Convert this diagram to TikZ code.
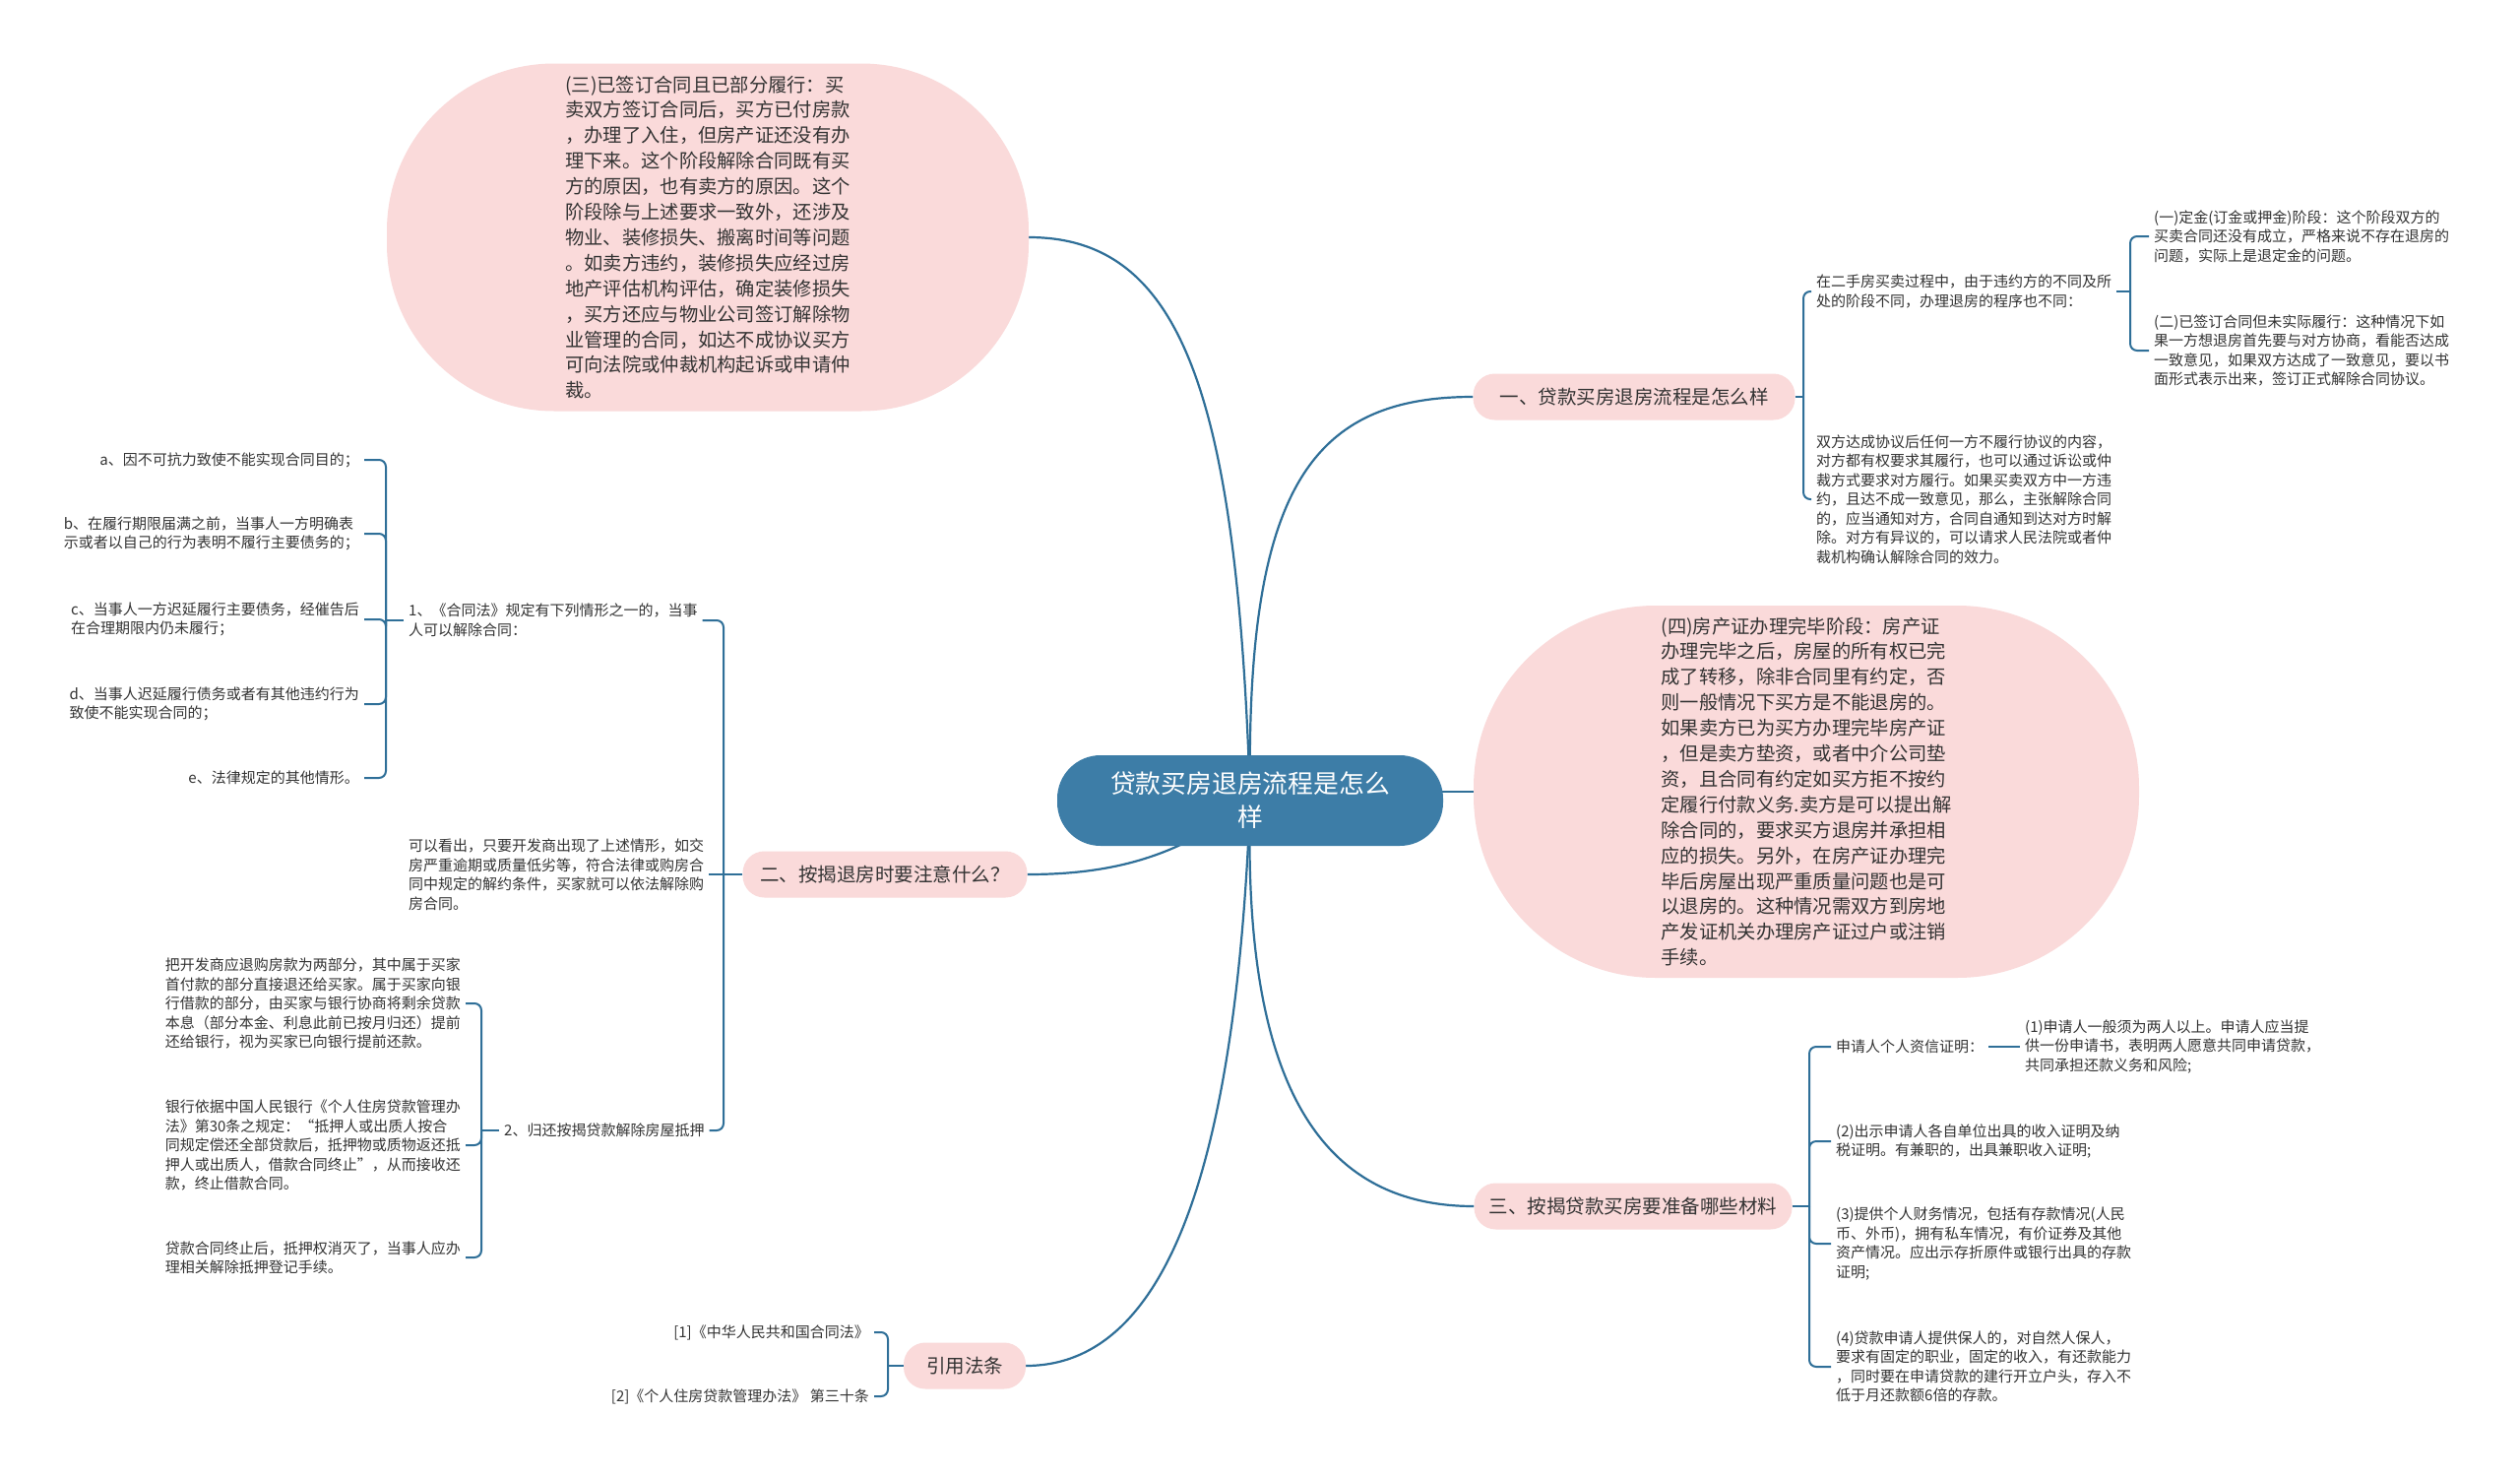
\documentclass[tikz,border=0pt]{standalone}
\usepackage{fontspec}
\setmainfont{Noto Sans CJK SC}
\usetikzlibrary{backgrounds}
\definecolor{lc}{HTML}{2F6F98}
\definecolor{pk}{HTML}{FADADA}
\definecolor{rc}{HTML}{3D7DA7}
\definecolor{tc}{HTML}{333333}
\begin{document}
\begin{tikzpicture}[x=1pt,y=-1pt,
  conn/.style={draw=lc, line width=2.2pt},
  brace/.style={draw=lc, line width=2pt, rounded corners=7pt},
  txt/.style={text=tc, align=left, inner xsep=5pt, inner ysep=0pt, font=\fontsize{15}{19.5}\selectfont},
  bubble/.style={fill=pk, text=tc, align=left, inner sep=0pt, font=\fontsize{19.3}{25.9}\selectfont},
  branch/.style={fill=pk, text=tc, rounded corners=22pt, minimum height=47pt, inner sep=0pt, font=\fontsize{19.5}{24}\selectfont},
  root/.style={fill=rc, text=white, rounded corners=44pt, minimum width=392pt, minimum height=92pt, align=center, inner sep=0pt, font=\fontsize{25.8}{34}\selectfont}]
\useasboundingbox (0,0) rectangle (2560,1502);

% central and bubble nodes
\node[root] (c) at (1270,813) {贷款买房退房流程是怎么\\样};
\node[bubble, minimum width=652pt, minimum height=353pt, rounded corners=170pt] (san) at (719,241) {(三)已签订合同且已部分履行：买\\卖双方签订合同后，买方已付房款\\，办理了入住，但房产证还没有办\\理下来。这个阶段解除合同既有买\\方的原因，也有卖方的原因。这个\\阶段除与上述要求一致外，还涉及\\物业、装修损失、搬离时间等问题\\。如卖方违约，装修损失应经过房\\地产评估机构评估，确定装修损失\\，买方还应与物业公司签订解除物\\业管理的合同，如达不成协议买方\\可向法院或仲裁机构起诉或申请仲\\裁。};
\node[bubble, minimum width=676pt, minimum height=378pt, rounded corners=185pt] (si) at (1835,804) {(四)房产证办理完毕阶段：房产证\\办理完毕之后，房屋的所有权已完\\成了转移，除非合同里有约定，否\\则一般情况下买方是不能退房的。\\如果卖方已为买方办理完毕房产证\\，但是卖方垫资，或者中介公司垫\\资，且合同有约定如买方拒不按约\\定履行付款义务.卖方是可以提出解\\除合同的，要求买方退房并承担相\\应的损失。另外，在房产证办理完\\毕后房屋出现严重质量问题也是可\\以退房的。这种情况需双方到房地\\产发证机关办理房产证过户或注销\\手续。};

% branch nodes
\node[branch, minimum width=327pt] (b1) at (1660,403) {一、贷款买房退房流程是怎么样};
\node[branch, minimum width=289pt] (b2) at (899,888) {二、按揭退房时要注意什么？};
\node[branch, minimum width=323pt] (b3) at (1659,1225) {三、按揭贷款买房要准备哪些材料};
\node[branch, minimum width=124pt] (b4) at (980,1387) {引用法条};

% branch 1 children
\node[txt, anchor=west] (k1) at (1840,296) {在二手房买卖过程中，由于违约方的不同及所\\处的阶段不同，办理退房的程序也不同：};
\node[txt, anchor=west] (k2) at (1840,507) {双方达成协议后任何一方不履行协议的内容，\\对方都有权要求其履行，也可以通过诉讼或仲\\裁方式要求对方履行。如果买卖双方中一方违\\约，且达不成一致意见，那么，主张解除合同\\的，应当通知对方，合同自通知到达对方时解\\除。对方有异议的，可以请求人民法院或者仲\\裁机构确认解除合同的效力。};
\node[txt, anchor=west] (k11) at (2183,240) {(一)定金(订金或押金)阶段：这个阶段双方的\\买卖合同还没有成立，严格来说不存在退房的\\问题，实际上是退定金的问题。};
\node[txt, anchor=west] (k12) at (2183,356) {(二)已签订合同但未实际履行：这种情况下如\\果一方想退房首先要与对方协商，看能否达成\\一致意见，如果双方达成了一致意见，要以书\\面形式表示出来，签订正式解除合同协议。};

% branch 3 children
\node[txt, anchor=west] (m1) at (1860,1063) {申请人个人资信证明：};
\node[txt, anchor=west] (m11) at (2052,1063) {(1)申请人一般须为两人以上。申请人应当提\\供一份申请书，表明两人愿意共同申请贷款，\\共同承担还款义务和风险;};
\node[txt, anchor=west] (m2) at (1860,1159) {(2)出示申请人各自单位出具的收入证明及纳\\税证明。有兼职的，出具兼职收入证明;};
\node[txt, anchor=west] (m3) at (1860,1263) {(3)提供个人财务情况，包括有存款情况(人民\\币、外币)，拥有私车情况，有价证券及其他\\资产情况。应出示存折原件或银行出具的存款\\证明;};
\node[txt, anchor=west] (m4) at (1860,1388) {(4)贷款申请人提供保人的，对自然人保人，\\要求有固定的职业，固定的收入，有还款能力\\，同时要在申请贷款的建行开立户头，存入不\\低于月还款额6倍的存款。};

% branch 2 children
\node[txt, anchor=west] (n1) at (410,630) {1、《合同法》规定有下列情形之一的，当事\\人可以解除合同：};
\node[txt, anchor=west] (n2) at (410,888) {可以看出，只要开发商出现了上述情形，如交\\房严重逾期或质量低劣等，符合法律或购房合\\同中规定的解约条件，买家就可以依法解除购\\房合同。};
\node[txt, anchor=west] (n3) at (507,1148) {2、归还按揭贷款解除房屋抵押};
\node[txt, anchor=east] (na) at (370,467) {a、因不可抗力致使不能实现合同目的；};
\node[txt, anchor=east] (nb) at (370,542) {b、在履行期限届满之前，当事人一方明确表\\示或者以自己的行为表明不履行主要债务的；};
\node[txt, anchor=east] (nc) at (370,629) {c、当事人一方迟延履行主要债务，经催告后\\在合理期限内仍未履行；};
\node[txt, anchor=east] (nd) at (370,715) {d、当事人迟延履行债务或者有其他违约行为\\致使不能实现合同的；};
\node[txt, anchor=east] (ne) at (370,790) {e、法律规定的其他情形。};
\node[txt, anchor=east] (p1) at (473,1019) {把开发商应退购房款为两部分，其中属于买家\\首付款的部分直接退还给买家。属于买家向银\\行借款的部分，由买家与银行协商将剩余贷款\\本息（部分本金、利息此前已按月归还）提前\\还给银行，视为买家已向银行提前还款。};
\node[txt, anchor=east] (p2) at (473,1163) {银行依据中国人民银行《个人住房贷款管理办\\法》第30条之规定：“抵押人或出质人按合\\同规定偿还全部贷款后，抵押物或质物返还抵\\押人或出质人，借款合同终止”，从而接收还\\款，终止借款合同。};
\node[txt, anchor=east] (p3) at (473,1277) {贷款合同终止后，抵押权消灭了，当事人应办\\理相关解除抵押登记手续。};

% branch 4 children
\node[txt, anchor=east] (r1) at (888,1353) {[1]《中华人民共和国合同法》};
\node[txt, anchor=east] (r2) at (888,1418) {[2]《个人住房贷款管理办法》 第三十条};

% junctions
\coordinate (j1) at (1832,403);
\coordinate (j11) at (2164,296);
\coordinate (j3) at (1838,1225);
\coordinate (j2) at (735,888);
\coordinate (j21) at (392,630);
\coordinate (j23) at (489,1148);
\coordinate (j4) at (902,1387);

% branch 1 connectors
\draw[conn] (b1.east) -- (j1);
\draw[brace] (j1) |- (k1.west);
\draw[brace] (j1) |- (k2.west);
\draw[conn] (k1.east) -- (j11);
\draw[brace] (j11) |- (k11.west);
\draw[brace] (j11) |- (k12.west);

% branch 3 connectors
\draw[conn] (b3.east) -- (j3);
\draw[brace] (j3) |- (m1.west);
\draw[brace] (j3) |- (m2.west);
\draw[brace] (j3) |- (m3.west);
\draw[brace] (j3) |- (m4.west);
\draw[conn] (m1.east) -- (m11.west);

% branch 2 connectors
\draw[conn] (b2.west) -- (j2);
\draw[brace] (j2) |- (n1.east);
\draw[brace] (j2) -- (n2.east);
\draw[brace] (j2) |- (n3.east);
\draw[conn] (n1.west) -- (j21);
\draw[brace] (j21) |- (na.east);
\draw[brace] (j21) |- (nb.east);
\draw[brace] (j21) |- (nc.east);
\draw[brace] (j21) |- (nd.east);
\draw[brace] (j21) |- (ne.east);
\draw[conn] (n3.west) -- (j23);
\draw[brace] (j23) |- (p1.east);
\draw[brace] (j23) |- (p2.east);
\draw[brace] (j23) |- (p3.east);

% branch 4 connectors
\draw[conn] (b4.west) -- (j4);
\draw[brace] (j4) |- (r1.east);
\draw[brace] (j4) |- (r2.east);

\begin{pgfonlayer}{background}
\fill[white] (0,0) rectangle (2560,1502);
\draw[conn] (c.center) .. controls +(-13,-413) and +(155,0) .. (san.east);
\draw[conn] (c.center) .. controls +(-5,-313) and +(-167,0) .. (b1.west);
\draw[conn] (c.center |- si.west) -- (si.west);
\draw[conn] (c.center) .. controls +(-8,287) and +(-157,0) .. (b3.west);
\draw[conn] (c.center) .. controls +(-15,387) and +(138,0) .. (b4.east);
\draw[conn] (c.center) .. controls +(-70,57) and +(87,0) .. (b2.east);
\end{pgfonlayer}
\end{tikzpicture}
\end{document}
